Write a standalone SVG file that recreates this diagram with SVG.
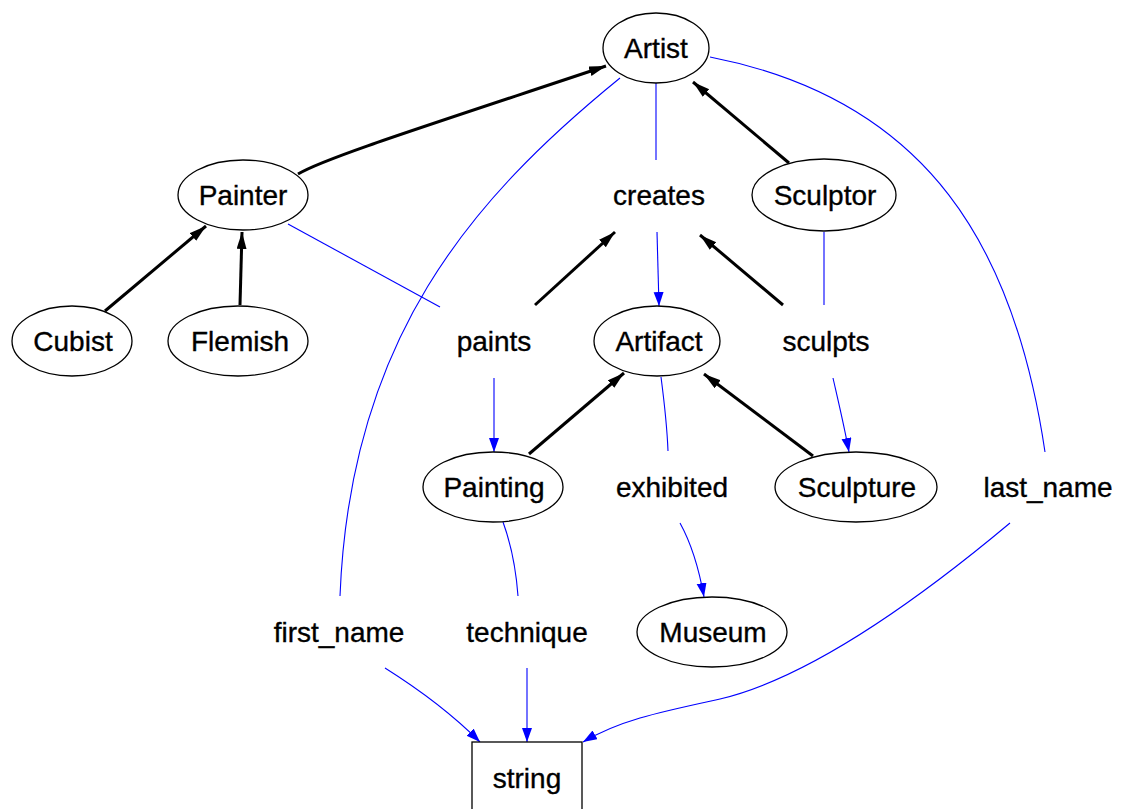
<svg xmlns="http://www.w3.org/2000/svg" width="1121" height="809" viewBox="0 0 1121 809">
  <style>
    .node ellipse, .node rect { fill: #ffffff; stroke: #000000; stroke-width: 1.3; }
    text { font-family: "Liberation Sans", Arial, sans-serif; font-size: 28px; fill: #000000; stroke: #000000; stroke-width: 0.35; text-anchor: middle; }
    .isa { fill: none; stroke: #000000; stroke-width: 3; marker-end: url(#blackHead); }
    .prop { fill: none; stroke: #0000ff; stroke-width: 1.1; }
    .prop.arrow { marker-end: url(#blueHead); }
  </style>
  <defs>
    <marker id="blackHead" markerUnits="userSpaceOnUse" markerWidth="18" markerHeight="11" refX="17" refY="5" orient="auto">
      <path d="M0,0 L17,5 L0,10 z" fill="#000000"/>
    </marker>
    <marker id="blueHead" markerUnits="userSpaceOnUse" markerWidth="15" markerHeight="11" refX="14" refY="5" orient="auto">
      <path d="M0,0 L14,5 L0,10 z" fill="#0000ff"/>
    </marker>
  </defs>

  <rect width="1121" height="809" fill="#ffffff"/>

  <!-- connectors -->
  <g id="edges">
    <!-- subclass links -->
    <path class="isa" d="M298,174 C325,158 420,128 606,66"/>
    <path class="isa" d="M105,311 L206,226"/>
    <path class="isa" d="M240,305 L242,232"/>
    <path class="isa" d="M789,163 L693,82"/>
    <path class="isa" d="M535,305 L615,232"/>
    <path class="isa" d="M783,305 L700,235"/>
    <path class="isa" d="M529,454 L624,373"/>
    <path class="isa" d="M813,456 L704,374"/>

    <!-- property links -->
    <path class="prop" d="M656,83 L656,160"/>
    <path class="prop arrow" d="M657,232 L659,306"/>
    <path class="prop" d="M288,224 L440,307"/>
    <path class="prop arrow" d="M494,378 L494,452"/>
    <path class="prop" d="M824,232 L824,305"/>
    <path class="prop arrow" d="M833,378 C838,400 844,425 849,452"/>
    <path class="prop" d="M661,377 C664,400 667,425 668,451"/>
    <path class="prop arrow" d="M680,523 Q696,552 704,597"/>
    <path class="prop" d="M503,522 Q515,555 518,596"/>
    <path class="prop arrow" d="M527,668 L527,742"/>
    <path class="prop" d="M620,78 C470,200 350,340 340,596"/>
    <path class="prop arrow" d="M385,668 C420,690 450,712 480,742"/>
    <path class="prop" d="M710,57 C930,100 1015,250 1045,452"/>
    <path class="prop arrow" d="M1010,523 C900,615 800,680 720,699 C660,712 620,720 583,742"/>
  </g>

  <!-- nodes -->
  <g id="Artist" class="node">
    <ellipse cx="656" cy="48" rx="53" ry="35"/>
    <text x="656" y="58">Artist</text>
  </g>
  <g id="Painter" class="node">
    <ellipse cx="243" cy="195" rx="65" ry="35"/>
    <text x="243" y="205">Painter</text>
  </g>
  <g id="creates" class="node">
    <text x="659" y="205">creates</text>
  </g>
  <g id="Sculptor" class="node">
    <ellipse cx="824" cy="195" rx="72" ry="36"/>
    <text x="825" y="205">Sculptor</text>
  </g>
  <g id="Cubist" class="node">
    <ellipse cx="72" cy="341" rx="60" ry="35"/>
    <text x="73" y="351">Cubist</text>
  </g>
  <g id="Flemish" class="node">
    <ellipse cx="238" cy="341" rx="70" ry="35"/>
    <text x="240" y="351">Flemish</text>
  </g>
  <g id="paints" class="node">
    <text x="494" y="351">paints</text>
  </g>
  <g id="Artifact" class="node">
    <ellipse cx="657" cy="341" rx="63" ry="35"/>
    <text x="659" y="351">Artifact</text>
  </g>
  <g id="sculpts" class="node">
    <text x="826" y="351">sculpts</text>
  </g>
  <g id="Painting" class="node">
    <ellipse cx="493" cy="487" rx="70" ry="35"/>
    <text x="494" y="497">Painting</text>
  </g>
  <g id="exhibited" class="node">
    <text x="672" y="497">exhibited</text>
  </g>
  <g id="Sculpture" class="node">
    <ellipse cx="856" cy="487" rx="81" ry="35"/>
    <text x="857" y="497">Sculpture</text>
  </g>
  <g id="last_name" class="node">
    <text x="1048" y="497">last_name</text>
  </g>
  <g id="first_name" class="node">
    <text x="339" y="642">first_name</text>
  </g>
  <g id="technique" class="node">
    <text x="527" y="642">technique</text>
  </g>
  <g id="Museum" class="node">
    <ellipse cx="712" cy="632" rx="75" ry="35"/>
    <text x="713" y="642">Museum</text>
  </g>
  <g id="string" class="node">
    <rect x="472" y="742" width="110" height="72"/>
    <text x="527" y="788">string</text>
  </g>
</svg>
